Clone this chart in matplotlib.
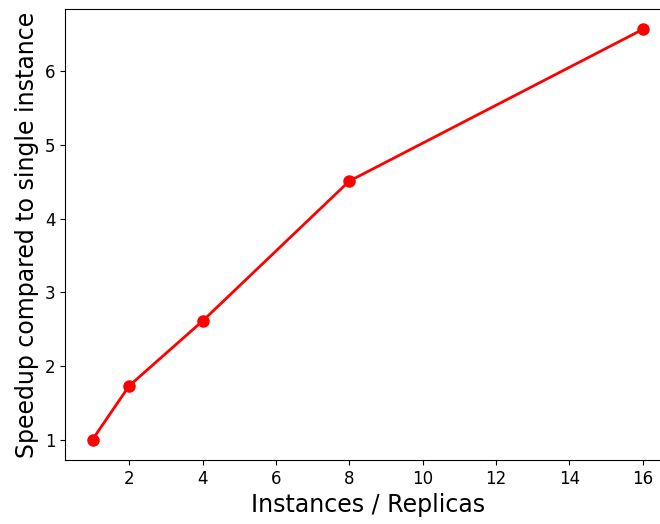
import matplotlib
matplotlib.use('Agg')
import matplotlib.pyplot as plt

# Данные: число экземпляров и ускорение
instances = [1, 2, 4, 8, 16]
speedup = [1.0, 1.73, 2.61, 4.51, 6.57]

fig = plt.figure(figsize=(6.6, 5.24), dpi=100)
# правая граница осей выходит за пределы рисунка (как в оригинале)
ax = fig.add_axes([0.0985, 0.122, 0.917, 0.861])

ax.plot(instances, speedup, color='red', marker='o', markersize=8, linewidth=2)
ax.set_xticks([2, 4, 6, 8, 10, 12, 14, 16])
ax.set_yticks([1, 2, 3, 4, 5, 6])
ax.tick_params(labelsize=12)
ax.set_xlabel('Instances / Replicas', fontsize=17)
ax.set_ylabel('Speedup compared to single instance', fontsize=17)

fig.savefig('out.png', dpi=100)
